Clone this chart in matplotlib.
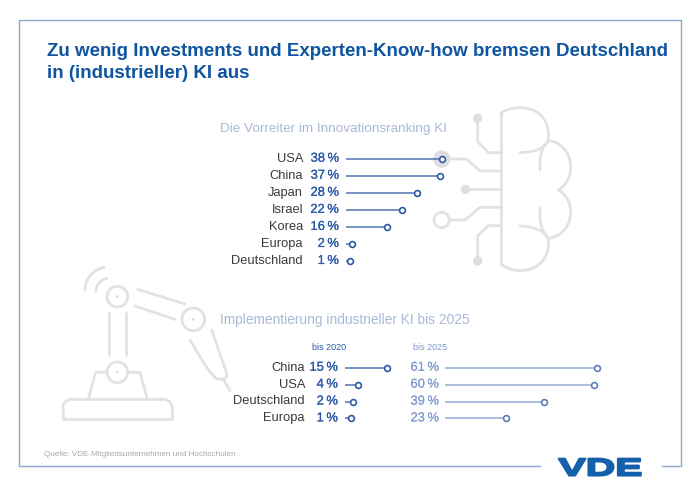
import numpy as np
import matplotlib
matplotlib.use("Agg")
import matplotlib.pyplot as plt
from matplotlib.patches import Circle
from matplotlib.patheffects import AbstractPathEffect, withStroke
from matplotlib.transforms import Affine2D

# values
top_labels = ["USA", "China", "Japan", "Israel", "Korea", "Europa", "Deutschland"]
top_values = [38, 37, 28, 22, 16, 2, 1]
bottom_labels = ["China", "USA", "Deutschland", "Europa"]
values_2020 = [15, 4, 2, 1]
values_2025 = [61, 60, 39, 23]

W, H = 700, 495
BLUE = "#0f55a0"
DARKBLUE = "#2a5aa8"
LIGHTBLUE = "#7f9bce"
LINE = "#5f7fb8"
LINE_LIGHT = "#9db2d8"
GREY = "#e2e2e2"
DOT = "#dedede"
TEXT = "#3a3a3a"
ICON_LW = 2.0

plt.rcParams["font.family"] = ["Liberation Sans", "DejaVu Sans"]

fig = plt.figure(figsize=(W / 100, H / 100), dpi=100, facecolor="white")

# background layer in pixels, y runs downwards
bg = fig.add_axes([0, 0, 1, 1])
bg.set_xlim(0, W)
bg.set_ylim(H, 0)
bg.axis("off")


class Stretch(AbstractPathEffect):
    # widens and fattens a text, the logo letters are much wider than any installed font
    def __init__(self, sx, stroke):
        super().__init__()
        self.sx = sx
        self.stroke = stroke

    def draw_path(self, renderer, gc, tpath, affine, rgbFace=None):
        gc0 = renderer.new_gc()
        gc0.copy_properties(gc)
        gc0.set_foreground(rgbFace)
        gc0.set_linewidth(self.stroke)
        renderer.draw_path(gc0, tpath, Affine2D().scale(self.sx, 1) + affine, rgbFace)
        gc0.restore()


def pl(pts, x0, y0):
    pts = np.array(pts, dtype=float) / 3
    bg.plot(pts[:, 0] + x0, pts[:, 1] + y0, color=GREY, lw=ICON_LW, solid_capstyle="round",
            solid_joinstyle="round", zorder=1)


def bez(p0, p1, p2, p3, n=30):
    # smooth curve for the icon outlines
    t = np.linspace(0, 1, n)[:, None]
    p0, p1, p2, p3 = [np.array(p, dtype=float) for p in (p0, p1, p2, p3)]
    return (1 - t) ** 3 * p0 + 3 * (1 - t) ** 2 * t * p1 + 3 * (1 - t) * t ** 2 * p2 + t ** 3 * p3


def ring(x, y, r, x0, y0, fill="none", lw=ICON_LW):
    ec = DOT if fill != "none" else GREY
    bg.add_patch(Circle((x0 + x / 3, y0 + y / 3), r / 3, fc=fill, ec=ec, lw=lw, zorder=1))


# frame with gap for the logo
bg.plot([540, 19, 19, 681, 681, 662], [466, 466, 20, 20, 466, 466], color="#8fa5d2", lw=1.0)

# brain icon
BX, BY = 430, 100
pl([(212, 40), (212, 490)], BX, BY)
pl(bez((212, 40), (250, 10), (365, 10), (355, 122)), BX, BY)
pl(bez((355, 122), (340, 150), (310, 155), (270, 158)), BX, BY)
pl(bez((355, 122), (430, 130), (445, 235), (385, 270)), BX, BY)
pl(bez((385, 270), (445, 305), (430, 405), (355, 415)), BX, BY)
pl(bez((355, 415), (340, 390), (310, 380), (270, 378)), BX, BY)
pl(bez((355, 415), (365, 520), (250, 530), (212, 490)), BX, BY)
pl(bez((355, 122), (335, 140), (328, 170), (330, 210)), BX, BY)
pl(bez((355, 415), (335, 395), (328, 365), (330, 325)), BX, BY)
pl([(143, 55), (143, 125), (175, 158), (212, 158)], BX, BY)
pl([(35, 177), (110, 177), (150, 213), (212, 213)], BX, BY)
pl([(107, 268), (212, 268)], BX, BY)
pl([(57, 360), (105, 360), (150, 322), (212, 322)], BX, BY)
pl([(143, 483), (143, 408), (175, 377), (212, 377)], BX, BY)
ring(143, 55, 14, BX, BY, fill=DOT, lw=0)
ring(35, 177, 26, BX, BY, fill=DOT, lw=0)
ring(107, 268, 14, BX, BY, fill=DOT, lw=0)
ring(35, 360, 23, BX, BY)
ring(143, 483, 14, BX, BY, fill=DOT, lw=0)

# robot arm icon
RX, RY = 60, 260
for cx, cy, r in [(172, 110, 31), (400, 178, 34), (172, 337, 31)]:
    ring(cx, cy, r, RX, RY)
    ring(cx, cy, 4, RX, RY, fill=DOT, lw=0)
pl(bez((75, 90), (75, 55), (100, 28), (133, 22)), RX, RY)
pl(bez((108, 95), (108, 75), (120, 60), (140, 55)), RX, RY)
pl([(233, 88), (375, 132)], RX, RY)
pl([(225, 138), (345, 178)], RX, RY)
pl([(148, 158), (148, 285)], RX, RY)
pl([(197, 158), (197, 285)], RX, RY)
pl([(85, 417), (107, 337), (142, 337)], RX, RY)
pl([(205, 337), (240, 337), (262, 417)], RX, RY)
pl(bez((390, 240), (420, 290), (445, 335), (465, 352)), RX, RY)
pl(bez((465, 352), (478, 362), (505, 360), (500, 340)), RX, RY)
pl([(500, 340), (455, 210)], RX, RY)
pl([(490, 358), (510, 392)], RX, RY)
# robot foot
pl([(8, 478), (337, 478), (337, 447)], RX, RY)
pl(bez((337, 447), (337, 428), (325, 417), (305, 417)), RX, RY)
pl([(305, 417), (40, 417)], RX, RY)
pl(bez((40, 417), (20, 417), (8, 428), (8, 447)), RX, RY)
pl([(8, 447), (8, 478)], RX, RY)

# title and headings
bg.text(47, 52, "Zu wenig Investments und Experten-Know-how bremsen Deutschland",
        fontsize=13.5, fontweight="bold", color=BLUE, va="center", ha="left")
bg.text(47, 74, "in (industrieller) KI aus",
        fontsize=13.5, fontweight="bold", color=BLUE, va="center", ha="left")
bg.text(220, 129, "Die Vorreiter im Innovationsranking KI", fontsize=9.7, color="#a9b8d8",
        va="center", ha="left")
bg.text(220, 320, "Implementierung industrieller KI bis 2025", fontsize=9.9, color="#a9b8d8",
        va="center", ha="left")
bg.text(312, 347, "bis 2020", fontsize=6.5, color=DARKBLUE, va="center", ha="left")
bg.text(413, 347, "bis 2025", fontsize=6.5, color=LIGHTBLUE, va="center", ha="left")
bg.text(44, 455, "Quelle: VDE-Mitgliedsunternehmen und Hochschulen", fontsize=5.9, color="#a8a8a8",
        va="center", ha="left")

# VDE logo
bg.text(558.5, 475.5, "VDE", fontsize=17.6, fontweight="bold", color="#1560ab", va="baseline", ha="left",
        path_effects=[Stretch(1.67, 1.5)])


def panel(x0_px, k, y_first, dy, labels, values, label_x, value_x, start, line_c, head_c, val_c, fat):
    # one lollipop group with its own value scale, x=0 sits at x0_px
    n = len(values)
    pos = np.arange(n)
    left = 200
    right = 620
    ax = fig.add_axes([left / W, 1 - (y_first + dy * (n - 1) + dy / 2) / H, (right - left) / W, dy * n / H])
    ax.set_xlim((left - x0_px) / k, (right - x0_px) / k)
    ax.set_ylim(n - 0.5, -0.5)
    ax.axis("off")
    ax.patch.set_alpha(0)
    ax.hlines(pos, start, values, color=line_c, lw=1.2, zorder=2)
    ax.plot(values, pos, "o", ms=4.2, mfc="white", mec=head_c, mew=1.2, zorder=3, ls="none")
    for i in range(n):
        y = y_first + dy * i
        if labels is not None:
            bg.text(label_x, y, labels[i], fontsize=9.3, color=TEXT, va="center", ha="right")
        bg.text(value_x, y, "%d\u2009%%" % values[i], fontsize=9.3, color=val_c, va="center", ha="right",
                path_effects=[withStroke(linewidth=fat, foreground=val_c)])
    return ax


panel(347, 2.5, 158.7, 17.05, top_labels, top_values, 303, 339, -0.5, LINE, DARKBLUE, DARKBLUE, 0.15)
panel(348, 2.6, 367.7, 16.9, bottom_labels, values_2020, 305, 338, -1.2, LINE, DARKBLUE, DARKBLUE, 0.15)
panel(451, 2.39, 367.7, 16.9, None, values_2025, 0, 439, -2.5, LINE_LIGHT, LINE, LIGHTBLUE, 0.05)

fig.savefig("out.png", dpi=100)
